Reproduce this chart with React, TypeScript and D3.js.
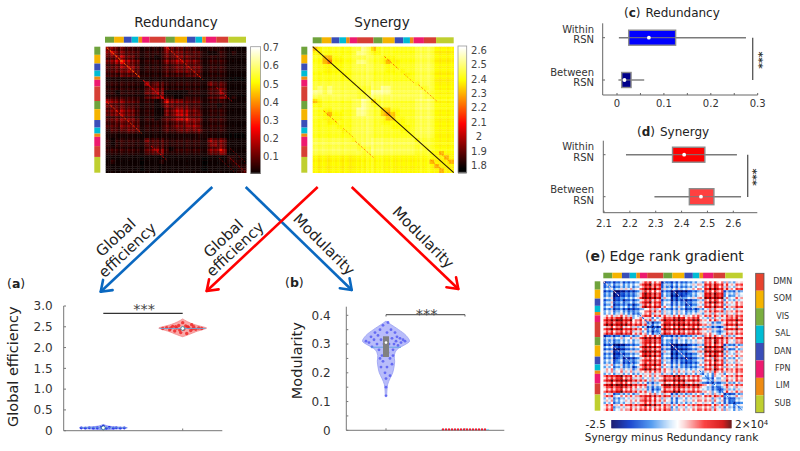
import React, { useRef, useEffect } from 'react';
import * as d3 from 'd3';

const FONT = '"DejaVu Sans", sans-serif';

/* network colours and order of the parcel colour strip */
const GREEN = '#6fa33c', YELLOW = '#f5b400', BLUE = '#3a4db8', CYAN = '#00bcd4';
const ORANGE = '#ee8b12', PINK = '#ee1a6f', RED = '#d63f35', LIME = '#bfcf2f';
const stripColors = [GREEN, YELLOW, BLUE, CYAN, ORANGE, PINK, RED, GREEN, YELLOW, BLUE, CYAN, ORANGE, PINK, RED, LIME];
const stripParcels = [15, 16, 13, 11, 6, 12, 27, 15, 20, 14, 11, 6, 17, 20, 29];
const PARCELS = 232;

const legendNames = ['DMN', 'SOM', 'VIS', 'SAL', 'DAN', 'FPN', 'LIM', 'SUB'];
const legendColors = ['#e8432e', YELLOW, '#7aae3f', '#00bcd4', BLUE, PINK, ORANGE, LIME];

/* lower triangles, one digit per 8 parcels */
const redundancyRows = [
  '5', '45', '335', '3356', '22344', '223344', '2223334', '11111122', '111111114',
  '1111111124', '11011111345', '111111112345', '5333222111015', '43332221110144',
  '334433211100335', '3344332111003356', '22333321110123455', '223333311111223344',
  '2223333111112233344', '12223331111122233334', '111111111111111111122',
  '1011111132221111111114', '10111111222211111111134', '111111112343101111111335',
  '1111111123341111111113345', '00000000000000000000000001', '010000000001000000000000011',
  '0000000000000000000000000011', '00000000000000000000000000012',
];
const synergyRows = [
  '5', '66', '775', '7754', '77666', '776666', '7777776', '77777777', '888888887',
  '8989888887', '99898888876', '888888888777', '5677777788985', '66777777889866',
  '776677778998775', '7765667789987754', '77666677888877655', '777667778888776666',
  '7777767788887777666', '77777767888877777766', '777777778888777777777',
  '8888888878888888888886', '88888888878888888888877', '888888888777888888888776',
  '8888888888778888888887776', '66666666666666666666666666', '666666666666666666666666566',
  '6666666666666666666666666566', '66666666666666666666666666566',
];
const rankRows = [
  '2', '33', '330', '3300', '34222', '342232', '4433323', '55555444', '778877564',
  '8888877753', '78887776422', '777777664323', '2333344577872', '33334445788733',
  '331023458887330', '3300234588873300', '33112345888734112', '442322357887442222',
  '4433223577874433222', '44333325777644333322', '555555555666555555544',
  '7788776645557788776653', '78888776544577888776533', '788887765333788888776432',
  '7788777654337788777665432', '66445556677666445555566663', '554355667776554355556655532',
  '5544566677765544555566555432', '66445666666666445555665554433',
];
const synergyLevels = [2.0, 2.08, 2.16, 2.22, 2.25, 2.31, 2.385, 2.41, 2.44, 2.5];

/* row and column stripes, one digit per 4 parcels, 5 is neutral */
const redundancyStripes = '6485739648' + '5736226837' + '4728593648' + '5739648573' + '2248573964' + '64645546';
const synergyStripes = '5645654565' + '6546545565' + '7586957685' + '6575565656' + '5565856865' + '55455455';
const rankStripes = '3748265937' + '4826375948' + '2847395628' + '3947264859' + '6374829537' + '28463957';

/* streaks seen in the matrices: [fromParcel, toParcel, offset, value] */
const redundancyStreaks = [[2, 56, 0, 0.34], [62, 100, 0, 0.22], [205, 230, 0, 0.14], [3, 60, 100, 0.3], [75, 100, 108, 0.24], [205, 230, -18, 0.12]];
const synergyStreaks = [[18, 42, 100, 2.2], [50, 68, 100, 2.28], [70, 100, 104, 2.25], [208, 228, -14, 2.25]];
const rankStreaks = [[0, 28, 0, 0.2], [60, 100, 0, -1.4], [110, 140, 0, 0.2], [160, 203, 0, -1.4], [0, 50, 100, 0.2], [205, 230, 0, -1.3]];

/* box plots: whisker low, q1, median, q3, whisker high */
const redundancyWithin = [0.004, 0.025, 0.068, 0.125, 0.275];
const redundancyBetween = [0.003, 0.01, 0.016, 0.03, 0.058];
const synergyWithin = [2.185, 2.365, 2.41, 2.49, 2.614];
const synergyBetween = [2.295, 2.43, 2.475, 2.525, 2.63];

/* violins: value and half width in px */
const effBlueValues = [0.03, 0.05, 0.07, 0.09, 0.11, 0.15];
const effBlueWidths = [4, 18, 24, 14, 5, 0];
const effRedValues = [2.26, 2.32, 2.38, 2.44, 2.47, 2.5, 2.56, 2.62, 2.69];
const effRedWidths = [0, 7, 13, 21, 24, 20, 11, 5, 0];
const modBlueValues = [0.12, 0.14, 0.16, 0.18, 0.2, 0.22, 0.24, 0.26, 0.28, 0.3, 0.31, 0.33, 0.35, 0.37, 0.38];
const modBlueWidths = [0.7, 1, 1.7, 4, 6.7, 8, 8.7, 8.3, 10.7, 20, 23.5, 20, 12.7, 4, 0];

/* jittered samples: [px offset, value] */
const effBluePoints = [[-22, 0.065], [-18, 0.06], [-14, 0.07], [-10, 0.06], [-6, 0.065], [-2, 0.08], [0, 0.11], [3, 0.06], [6, 0.08], [10, 0.06], [13, 0.07], [17, 0.06], [21, 0.065]];
const effRedPoints = [[-20, 2.46], [-16, 2.48], [-13, 2.43], [-10, 2.51], [-8, 2.4], [-6, 2.47], [-4, 2.53], [-2, 2.36], [0, 2.6], [1, 2.44], [3, 2.52], [4, 2.34], [6, 2.48], [8, 2.41], [9, 2.55], [11, 2.5], [13, 2.44], [16, 2.47], [19, 2.46], [-12, 2.47], [-3, 2.42], [5, 2.5], [-7, 2.5], [10, 2.45]];
const modBluePoints = [
  [-20, 0.31], [-17, 0.305], [-15, 0.325], [-14, 0.29], [-12, 0.315], [-11, 0.34], [-9, 0.3], [-8, 0.33], [-7, 0.28], [-6, 0.35], [-5, 0.315], [-4, 0.26],
  [-3, 0.365], [-3, 0.24], [-2, 0.3], [-1, 0.2], [0, 0.18], [0, 0.15], [0, 0.12], [1, 0.34], [1, 0.22], [2, 0.375], [2, 0.27], [3, 0.3], [4, 0.25], [4, 0.19],
  [5, 0.35], [6, 0.32], [6, 0.23], [7, 0.28], [8, 0.3], [9, 0.34], [10, 0.31], [11, 0.325], [12, 0.295], [14, 0.32], [15, 0.305], [17, 0.315], [19, 0.31], [-5, 0.22], [-6, 0.25], [7, 0.26],
];
const modRedOffsets = [-27, -24, -21, -18, -15, -12, -9, -6, -3, 0, 3, 6, 9, 12, 15];

const hot = (min: number, max: number) => {
  const span = max - min;
  return d3.scaleLinear<string>()
    .domain([min, min + span * 0.37, min + span * 0.73, max])
    .range(['#000000', '#ff0000', '#ffff00', '#ffffff'])
    .clamp(true);
};
const rankColor = d3.scaleLinear<string>()
  .domain([-2.5, -1.8, -1.0, -0.3, 0.0, 0.3, 1.0, 1.7, 2.0])
  .range(['#00005e', '#0030c8', '#3f8fee', '#cfe6fb', '#ffffff', '#fbc8c8', '#fa2a2a', '#d00000', '#5e0000'])
  .clamp(true);

export default function App() {
  const svgRef = useRef<SVGSVGElement>(null);

  useEffect(() => {
    if (!svgRef.current) return;
    const svg = d3.select(svgRef.current);
    svg.selectAll('*').remove();
    svg.append('defs').append('filter').attr('id', 'soft')
      .append('feGaussianBlur').attr('stdDeviation', 0.3);

    const label = (x: number, y: number, s: string, size: number, anchor = 'middle', fill = '#222') =>
      svg.append('text').attr('x', x).attr('y', y).attr('dy', '0.35em').attr('text-anchor', anchor)
        .style('font-family', FONT).style('font-size', `${size}px`).attr('fill', fill).text(s);

    const strip = (x0: number, y0: number, len: number, thick: number, horizontal: boolean) => {
      const s = d3.scaleLinear().domain([0, PARCELS]).range([0, len]);
      let at = 0;
      stripParcels.forEach((n, i) => {
        svg.append('rect')
          .attr('x', horizontal ? x0 + s(at) : x0).attr('y', horizontal ? y0 : y0 + s(at))
          .attr('width', horizontal ? s(n) : thick).attr('height', horizontal ? thick : s(n))
          .attr('fill', stripColors[i]);
        at += n;
      });
    };

    const matrix = (x0: number, y0: number, w: number, h: number, rows: string[], stripes: string,
      cell: (block: number, a: number, b: number) => number, color: (v: number) => string, streaks: number[][]) => {
      const cells = d3.range(stripes.length);
      const bx = d3.scaleBand<number>().domain(cells).range([x0, x0 + w]);
      const by = d3.scaleBand<number>().domain(cells).range([y0, y0 + h]);
      const px = d3.scaleLinear().domain([0, PARCELS]).range([x0, x0 + w]);
      const py = d3.scaleLinear().domain([0, PARCELS]).range([y0, y0 + h]);
      const g = svg.append('g').attr('filter', 'url(#soft)');
      cells.forEach(r => cells.forEach(k => {
        const hi = Math.max(r, k) >> 1, lo = Math.min(r, k) >> 1;
        const v = cell(+rows[hi][lo], +stripes[r], +stripes[k]);
        g.append('rect').attr('x', bx(k)!).attr('y', by(r)!)
          .attr('width', bx.bandwidth() + 0.3).attr('height', by.bandwidth() + 0.3).attr('fill', color(v));
      }));
      streaks.forEach(([from, to, off, v]) => {
        [[from, from + off, to, to + off], [from + off, from, to + off, to]].forEach(([r0, c0, r1, c1]) => {
          g.append('line').attr('x1', px(c0)).attr('y1', py(r0)).attr('x2', px(c1)).attr('y2', py(r1))
            .attr('stroke', color(v)).attr('stroke-width', 0.9).attr('stroke-dasharray', '2.2 1.6');
        });
      });
      return { px, py };
    };

    const colorBar = (x0: number, y0: number, w: number, h: number, color: (v: number) => string, min: number, max: number) => {
      const y = d3.scaleLinear().domain([min, max]).range([y0 + h, y0]);
      d3.range(0, Math.ceil(h)).forEach(i => {
        svg.append('rect').attr('x', x0).attr('y', y0 + i).attr('width', w).attr('height', 1.3).attr('fill', color(y.invert(y0 + i + 0.5)));
      });
      svg.append('rect').attr('x', x0).attr('y', y0).attr('width', w).attr('height', h)
        .attr('fill', 'none').attr('stroke', '#999').attr('stroke-width', 0.8);
      return y;
    };

    /* ---- top matrices ---- */
    label(176, 22, 'Redundancy', 13.5);
    strip(105, 36.7, 141, 6, true);
    strip(94.3, 46.7, 126, 6, false);
    const rColor = hot(0, 0.7);
    matrix(105.7, 46.7, 140.5, 126, redundancyRows, redundancyStripes,
      (b, p, q) => (b * 0.022 + 0.012) * (0.35 + p * 0.13) * (0.35 + q * 0.13), rColor, redundancyStreaks);
    const rBar = colorBar(250.6, 46.7, 10, 126.5, rColor, 0.01, 0.705);
    [0.1, 0.2, 0.3, 0.4, 0.5, 0.6, 0.7].forEach(t => label(263, rBar(t), `${t}`, 10, 'start', '#444'));

    label(382, 22, 'Synergy', 13.5);
    strip(312.7, 37.3, 141, 6, true);
    strip(301.3, 46.7, 126, 6, false);
    const sColor = hot(1.78, 2.62);
    const sm = matrix(312.7, 46.7, 141, 126, synergyRows, synergyStripes,
      (b, p, q) => synergyLevels[b] + (p - 5) * 0.012 + (q - 5) * 0.012, sColor, synergyStreaks);
    svg.append('line').attr('x1', sm.px(0)).attr('y1', sm.py(0)).attr('x2', sm.px(PARCELS)).attr('y2', sm.py(PARCELS))
      .attr('stroke', '#2a1a00').attr('stroke-width', 1.1);
    const sBar = colorBar(458, 46, 8.7, 126.3, sColor, 1.754, 2.63);
    [1.8, 1.9, 2, 2.1, 2.2, 2.3, 2.4, 2.5, 2.6].forEach(t => label(479, sBar(t), `${t}`, 10, 'middle', '#444'));

    /* ---- arrows ---- */
    const arrow = (x1: number, y1: number, x2: number, y2: number, color: string) => {
      const a = Math.atan2(y2 - y1, x2 - x1);
      svg.append('line').attr('x1', x1).attr('y1', y1).attr('x2', x2).attr('y2', y2).attr('stroke', color).attr('stroke-width', 2.6);
      [-0.62, 0.62].forEach(o => {
        svg.append('line').attr('x1', x2).attr('y1', y2)
          .attr('x2', x2 - 12 * Math.cos(a + o)).attr('y2', y2 - 12 * Math.sin(a + o))
          .attr('stroke', color).attr('stroke-width', 2.6).attr('stroke-linecap', 'round');
      });
    };
    arrow(212.3, 187, 100.7, 291.7, '#0a68c0');
    arrow(245.7, 187, 351.7, 290, '#0a68c0');
    arrow(317.7, 187, 206.7, 291, '#ff0000');
    arrow(351.7, 187, 458.3, 289, '#ff0000');
    const slanted = (x: number, y: number, s: string, deg: number) =>
      svg.append('text').attr('transform', `translate(${x},${y}) rotate(${deg})`).attr('text-anchor', 'middle').attr('dy', '0.35em')
        .style('font-family', FONT).style('font-size', '15px').attr('fill', '#222').text(s);
    slanted(115.7, 237.3, 'Global', -43);
    slanted(127.3, 250, 'efficiency', -43);
    slanted(223.3, 238.3, 'Global', -43);
    slanted(235, 249, 'efficiency', -43);
    slanted(324, 244.3, 'Modularity', 45);
    slanted(423.3, 237.3, 'Modularity', 45);

    const panelTag = (x: number, y: number, tag: string, rest = '', size = 12, gap = 0) => {
      const t = svg.append('text').attr('x', x).attr('y', y).attr('dy', '0.35em')
        .style('font-family', FONT).style('font-size', `${size}px`).attr('fill', '#222');
      t.append('tspan').text('(');
      t.append('tspan').style('font-weight', 'bold').text(tag);
      t.append('tspan').text(')');
      if (rest) t.append('tspan').attr('dx', gap).text(rest);
    };

    /* ---- violins ---- */
    const AXIS = '#777';
    const vLine = (x1: number, y1: number, x2: number, y2: number, stroke = AXIS, width = 1) =>
      svg.append('line').attr('x1', x1).attr('y1', y1).attr('x2', x2).attr('y2', y2).attr('stroke', stroke).attr('stroke-width', width);

    const violin = (cx: number, y: d3.ScaleLinear<number, number>, values: number[], widths: number[], fill: string, edge: string) => {
      const area = d3.area<number>().curve(d3.curveCatmullRom)
        .y((_, i) => y(values[i]))
        .x0((_, i) => cx - widths[i])
        .x1((_, i) => cx + widths[i]);
      svg.append('path').datum(values).attr('d', area).attr('fill', fill).attr('stroke', edge).attr('stroke-width', 0.7);
    };
    const samples = (cx: number, y: d3.ScaleLinear<number, number>, pts: number[][], color: string, r: number, opacity = 1) => {
      svg.append('g').selectAll('circle').data(pts).join('circle')
        .attr('cx', d => cx + d[0]).attr('cy', d => y(d[1])).attr('r', r).attr('fill', color).attr('opacity', opacity);
    };

    // (a)
    panelTag(7, 283.3, 'a', '', 12.5);
    const effY = d3.scaleLinear().domain([0, 3]).range([430.7, 306]);
    const effX = d3.scalePoint<string>().domain(['Redundancy', 'Synergy']).range([103.3, 182.7]);
    vLine(63.7, 306, 63.7, 430.7);
    vLine(63.7, 430.7, 222.3, 430.7);
    d3.range(0, 3.01, 0.5).forEach(t => {
      vLine(63.7, effY(t), 66, effY(t));
      label(52.7, effY(t), t === 0 ? '0' : t.toFixed(1), 12, 'end', '#333');
    });
    effX.domain().forEach(d => vLine(effX(d)!, 430.7, effX(d)!, 428.5));
    label(13.3, 0, 'Global efficiency', 14.5).attr('x', null).attr('y', null).attr('transform', 'translate(13.3,366.7) rotate(-90)');
    violin(effX('Redundancy')!, effY, effBlueValues, effBlueWidths, '#aab0fa', '#6a78f0');
    samples(effX('Redundancy')!, effY, effBluePoints, '#2020f0', 1.4);
    violin(effX('Synergy')!, effY, effRedValues, effRedWidths, '#f9a8a8', '#f08080');
    samples(effX('Synergy')!, effY, effRedPoints, '#ee2020', 1.7, 0.8);
    vLine(effX('Synergy')! - 23, effY(2.46), effX('Synergy')! + 23, effY(2.46), '#6aa6d8', 0.9);
    vLine(effX('Redundancy')! - 23, effY(0.07), effX('Redundancy')! + 23, effY(0.07), '#6aa6d8', 0.9);
    [['Redundancy', 0.07], ['Synergy', 2.46]].forEach(([k, v]) => {
      svg.append('circle').attr('cx', effX(k as string)!).attr('cy', effY(v as number)).attr('r', 1.9)
        .attr('fill', '#fff').attr('stroke', '#2a7a8a').attr('stroke-width', 0.8);
    });
    vLine(effX('Redundancy')!, 313.3, effX('Synergy')!, 313.3, '#333', 1.2);
    label(144, 309, '***', 14.5, 'middle', '#444');

    // (b)
    panelTag(285, 283, 'b', '', 12.5);
    const modY = d3.scaleLinear().domain([0, 0.4]).range([430.3, 315.3]);
    const modX = d3.scalePoint<string>().domain(['Redundancy', 'Synergy']).range([386, 465]);
    vLine(346.3, 306.7, 346.3, 430.3);
    vLine(346.3, 430.3, 504.3, 430.3);
    d3.range(0, 0.401, 0.05).forEach(t => vLine(346.3, modY(t), 348.3, modY(t)));
    [0, 0.1, 0.2, 0.3, 0.4].forEach(t => label(330.7, modY(t), `${t}`, 12, 'end', '#333'));
    modX.domain().forEach(d => vLine(modX(d)!, 430.3, modX(d)!, 428.3));
    label(0, 0, 'Modularity', 14.5).attr('x', null).attr('y', null).attr('transform', 'translate(296.7,360.7) rotate(-90)');
    const mx = modX('Redundancy')!;
    violin(mx, modY, modBlueValues, modBlueWidths, '#b8bcfa', '#9098f0');
    samples(mx, modY, modBluePoints, '#4a50f0', 1.4, 0.75);
    vLine(mx - 15, modY(0.289), mx + 15, modY(0.289), '#5aa0e0', 0.9);
    svg.append('rect').attr('x', mx - 3).attr('width', 6).attr('y', modY(0.327)).attr('height', modY(0.255) - modY(0.327)).attr('fill', '#808080');
    svg.append('circle').attr('cx', mx).attr('cy', modY(0.305)).attr('r', 1.3).attr('fill', '#fff');
    vLine(modX('Synergy')! - 24, modY(0.003), modX('Synergy')! + 24, modY(0.003), '#8fd0ee', 1);
    svg.append('g').selectAll('circle').data(modRedOffsets).join('circle')
      .attr('cx', d => modX('Synergy')! + d + 5).attr('cy', modY(0.003)).attr('r', 1.1).attr('fill', '#f01a2a');
    vLine(mx, 314.7, modX('Synergy')!, 314.7, '#666', 1.2);
    vLine(mx, 314.7, mx, 316.5, '#666', 1);
    vLine(modX('Synergy')!, 314.7, modX('Synergy')!, 316.5, '#666', 1);
    label(426.5, 313.5, '***', 14.5, 'middle', '#444');

    /* ---- box plots ---- */
    const boxRow = (x: d3.ScaleLinear<number, number>, y: number, b: number[], fill: string, bh: number) => {
      vLine(x(b[0]), y, x(b[4]), y, '#7a7a7a', 1.4);
      svg.append('rect').attr('x', x(b[1])).attr('y', y - bh / 2).attr('width', x(b[3]) - x(b[1])).attr('height', bh)
        .attr('fill', fill).attr('stroke', '#8c8c8c').attr('stroke-width', 1.4);
      vLine(x(b[1]), y, x(b[3]), y, '#7a7a7a', 1);
      svg.append('circle').attr('cx', x(b[2])).attr('cy', y).attr('r', 1.9).attr('fill', '#fff');
    };
    const rowLabel = (y1: number, y2: number, s: string) => {
      label(594, y1, s, 10, 'end', '#333');
      label(594, y2, 'RSN', 10, 'end', '#333');
    };

    // (c)
    panelTag(624, 12.7, 'c', 'Redundancy', 12, 5);
    const cX = d3.scaleLinear().domain([0, 0.3]).range([617, 757.7]);
    vLine(602.7, 23.3, 602.7, 95, '#666', 1);
    vLine(602.7, 95, 757.7, 95, '#666', 1);
    [37.7, 80].forEach(y => vLine(602.7, y, 605, y, '#666'));
    d3.range(0, 0.301, 0.05).forEach(t => vLine(cX(t), 95, cX(t), 93, '#666'));
    [0, 0.1, 0.2, 0.3].forEach(t => label(cX(t), 103.7, `${t}`, 10, 'middle', '#333'));
    rowLabel(29.3, 39, 'Within');
    rowLabel(72.7, 82.3, 'Between');
    boxRow(cX, 37.7, redundancyWithin, '#0000ff', 15);
    boxRow(cX, 80, redundancyBetween, '#00008b', 15);
    vLine(752.7, 37.7, 752.7, 80, '#555', 1.3);
    svg.append('text').attr('transform', 'translate(759,60) rotate(90)').attr('text-anchor', 'middle').attr('dy', '0.35em')
      .style('font-family', FONT).style('font-size', '11px').style('font-weight', 'bold').attr('fill', '#333').text('***');

    // (d)
    panelTag(637, 131.7, 'd', 'Synergy', 12, 5);
    const dX = d3.scaleLinear().domain([2.1, 2.6]).range([604, 733.3]);
    vLine(603.3, 140.7, 603.3, 212.7, '#666', 1);
    vLine(603.3, 212.7, 757.3, 212.7, '#666', 1);
    [154.7, 196.7].forEach(y => vLine(603.3, y, 605.5, y, '#666'));
    d3.range(2.1, 2.601, 0.1).forEach(t => {
      vLine(dX(t), 212.7, dX(t), 210.7, '#666');
      label(dX(t), 223.3, t.toFixed(1), 10, 'middle', '#333');
    });
    rowLabel(146.7, 157, 'Within');
    rowLabel(189.3, 200, 'Between');
    boxRow(dX, 154.7, synergyWithin, '#ff0000', 15);
    boxRow(dX, 196.7, synergyBetween, '#ff4040', 16);
    vLine(747.7, 154.7, 747.7, 197, '#555', 1.3);
    svg.append('text').attr('transform', 'translate(753,177) rotate(90)').attr('text-anchor', 'middle').attr('dy', '0.35em')
      .style('font-family', FONT).style('font-size', '11px').style('font-weight', 'bold').attr('fill', '#333').text('***');

    /* ---- (e) ---- */
    panelTag(585, 256, 'e', 'Edge rank gradient', 14, 4);
    strip(603.3, 272.7, 139.4, 5.6, true);
    strip(594.7, 281.3, 129.4, 5.6, false);
    matrix(603.5, 281.3, 139.2, 129.4, rankRows, rankStripes,
      (b, p, q) => -2.25 + b * 0.42 + (p - 5) * 0.18 + (q - 5) * 0.18, rankColor, rankStreaks);

    const legendY = d3.scaleBand<string>().domain(legendNames).range([273.3, 412.7]);
    legendNames.forEach((n, i) => {
      svg.append('rect').attr('x', 755.7).attr('y', legendY(n)!).attr('width', 8.3).attr('height', legendY.bandwidth()).attr('fill', legendColors[i]);
      label(782.7, legendY(n)! + legendY.bandwidth() / 2 - 1, n, 8, 'middle', '#333');
    });
    svg.append('rect').attr('x', 755.7).attr('y', 273.3).attr('width', 8.3).attr('height', 139.4)
      .attr('fill', 'none').attr('stroke', '#555').attr('stroke-width', 0.8);

    const rankX = d3.scaleLinear().domain([-2.5, 2]).range([611.3, 731]);
    d3.range(0, 120).forEach(i => {
      svg.append('rect').attr('x', 611.3 + i).attr('y', 420).attr('width', 1.3).attr('height', 8.3)
        .attr('fill', rankColor(rankX.invert(611.8 + i)));
    });
    label(606, 424.3, '-2.5', 10.5, 'end', '#222');
    const top = label(735, 424.3, '2×10', 10.5, 'start', '#222');
    top.append('tspan').attr('dy', '-0.45em').style('font-size', '7px').text('4');
    label(671.5, 437.3, 'Synergy minus Redundancy rank', 10.5, 'middle', '#222');
  }, []);

  return <svg ref={svgRef} width={800} height={451} style={{ position: 'absolute', left: 0, top: 0, background: '#fff' }} />;
}
